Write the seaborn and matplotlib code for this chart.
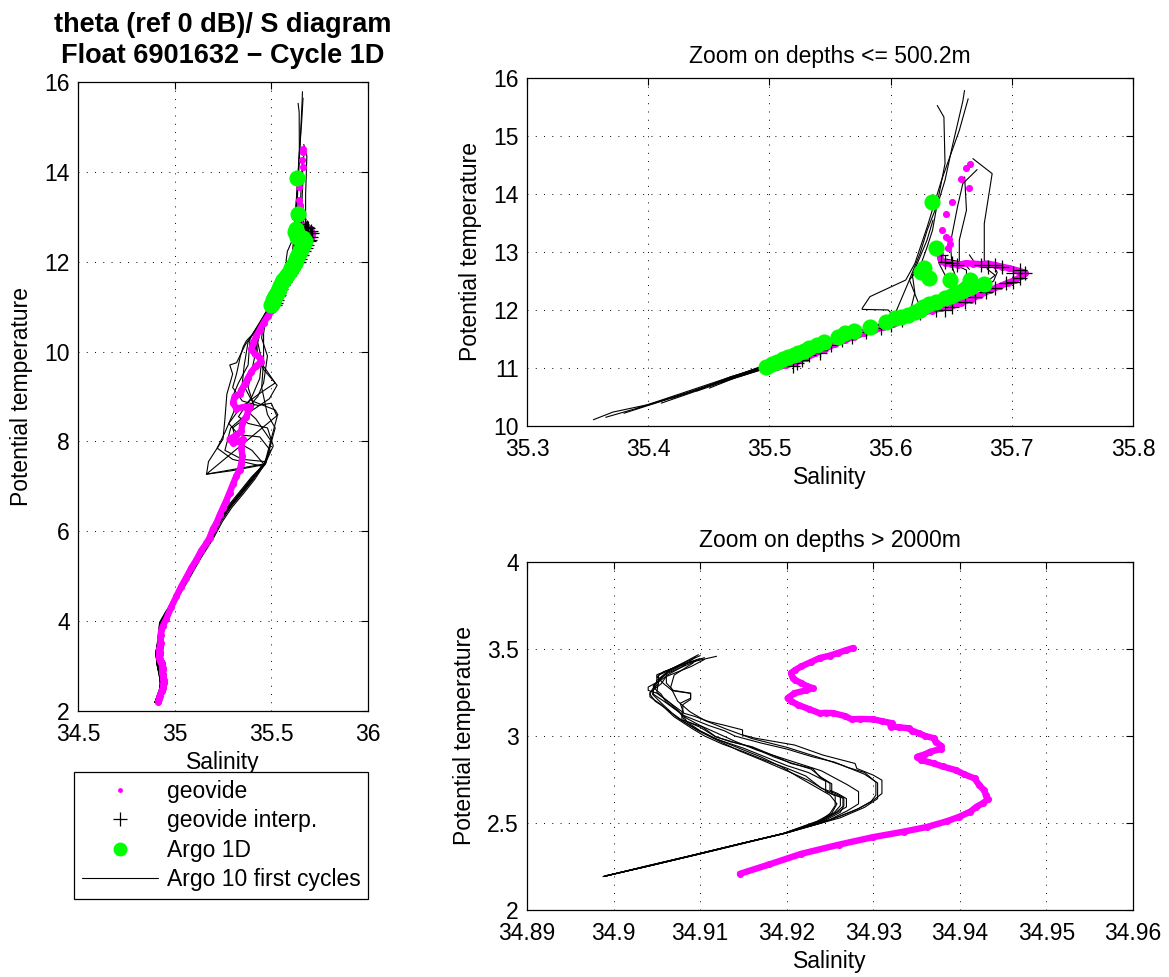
import matplotlib
matplotlib.use("Agg")
import matplotlib.pyplot as plt
from matplotlib.lines import Line2D
from matplotlib.ticker import FixedLocator, FuncFormatter
import pandas as pd
import seaborn as sns

# ---------------- geovide reference CTD profile ----------------
# deep part (> 2000 m)
geo_deep_sal = [34.9146, 34.9180, 34.9217, 34.9260, 34.9300, 34.9335, 34.9362, 34.9385, 34.9399, 34.9412,
                34.9419, 34.9427, 34.9432, 34.9430, 34.9428, 34.9422, 34.9417, 34.9405, 34.9395, 34.9380,
                34.9370, 34.9355, 34.9351, 34.9360, 34.9366, 34.9378, 34.9378, 34.9372, 34.9370, 34.9360,
                34.9353, 34.9345, 34.9341, 34.9330, 34.9320, 34.9322, 34.9310, 34.9300, 34.9285, 34.9275,
                34.9267, 34.9254, 34.9245, 34.9238, 34.9226, 34.9213, 34.9205, 34.9201, 34.9209, 34.9222,
                34.9230, 34.9222, 34.9217, 34.9210, 34.9207, 34.9205, 34.9210, 34.9217, 34.9228, 34.9238,
                34.9250, 34.9259, 34.9268, 34.9277]
geo_deep_theta = [2.208, 2.262, 2.323, 2.375, 2.419, 2.450, 2.477, 2.510, 2.535, 2.565,
                  2.592, 2.615, 2.635, 2.660, 2.688, 2.720, 2.756, 2.780, 2.804, 2.825,
                  2.842, 2.862, 2.881, 2.895, 2.910, 2.925, 2.945, 2.965, 2.987, 3.000,
                  3.015, 3.030, 3.044, 3.050, 3.054, 3.073, 3.085, 3.096, 3.098, 3.096,
                  3.115, 3.131, 3.133, 3.131, 3.154, 3.179, 3.200, 3.217, 3.246, 3.262,
                  3.275, 3.290, 3.304, 3.320, 3.333, 3.362, 3.380, 3.400, 3.425, 3.448,
                  3.462, 3.477, 3.492, 3.506]

# intermediate part (500 m - 2000 m)
geo_mid_sal = [34.9265, 34.9280, 34.9310, 34.9400, 34.9570, 34.9830, 35.0090, 35.0340, 35.0600, 35.0860,
               35.1120, 35.1380, 35.1640, 35.1810, 35.1980, 35.2160, 35.2330, 35.2500, 35.2670, 35.2840,
               35.3020, 35.3190, 35.3360, 35.3450, 35.3500, 35.3450, 35.3530, 35.3360, 35.3020, 35.2840,
               35.3190, 35.3450, 35.3500, 35.3710, 35.3880, 35.3620, 35.3190, 35.3020, 35.3100, 35.3360,
               35.3450, 35.3620, 35.3790, 35.3970, 35.4220, 35.4480, 35.4400, 35.4140, 35.3970, 35.4050,
               35.4220, 35.4400, 35.4600, 35.4830, 35.5000]
geo_mid_theta = [3.60, 3.70, 3.80, 3.90, 4.05, 4.32, 4.55, 4.77, 4.97, 5.18,
                 5.36, 5.57, 5.73, 5.86, 6.05, 6.18, 6.36, 6.52, 6.68, 6.86,
                 7.05, 7.23, 7.36, 7.50, 7.68, 7.86, 8.05, 8.00, 7.97, 8.05,
                 8.14, 8.23, 8.41, 8.55, 8.77, 8.77, 8.73, 8.86, 9.00, 9.05,
                 9.14, 9.27, 9.41, 9.55, 9.68, 9.77, 9.86, 9.95, 10.05, 10.18,
                 10.34, 10.48, 10.64, 10.79, 10.91]

# upper part (<= 500.2 m)
geo_upper_sal = [35.4980, 35.5060, 35.5140, 35.5220, 35.5300, 35.5380, 35.5460, 35.5540, 35.5620, 35.5700,
                 35.5780, 35.5860, 35.5940, 35.6020, 35.6100, 35.6180, 35.6260, 35.6340, 35.6420, 35.6500,
                 35.6580, 35.6660, 35.6740, 35.6820, 35.6900, 35.6970, 35.7030, 35.7080, 35.7112, 35.7050,
                 35.6980, 35.6920, 35.6860, 35.6800, 35.6740, 35.6680, 35.6620, 35.6560, 35.6500, 35.6450,
                 35.6420, 35.6410, 35.6405]
geo_upper_theta = [10.980, 11.010, 11.050, 11.100, 11.170, 11.250, 11.330, 11.410, 11.480, 11.540,
                   11.600, 11.650, 11.700, 11.750, 11.820, 11.890, 11.950, 11.990, 12.030, 12.060,
                   12.120, 12.180, 12.260, 12.340, 12.410, 12.470, 12.520, 12.580, 12.642, 12.680,
                   12.720, 12.745, 12.775, 12.800, 12.790, 12.800, 12.805, 12.780, 12.790, 12.815,
                   12.840, 12.900, 12.970]

# sparse near-surface samples
geo_surface_sal = [35.6474, 35.6493, 35.6485, 35.6460, 35.6422, 35.6455, 35.6507, 35.6649, 35.6578, 35.6622, 35.6652]
geo_surface_theta = [13.070, 13.130, 13.220, 13.260, 13.380, 13.660, 13.870, 14.100, 14.260, 14.450, 14.510]

# geovide interpolated on the Argo levels
interp_sal = [35.5197, 35.5227, 35.5271, 35.5330, 35.5418, 35.5418, 35.5507, 35.5595, 35.5683, 35.5801,
              35.5919, 35.6007, 35.6096, 35.6243, 35.6376, 35.6449, 35.6508, 35.6611, 35.6700, 35.6788,
              35.6862, 35.6950, 35.7009, 35.7068, 35.7112, 35.7068, 35.7009, 35.6920, 35.6862, 35.6803,
              35.6744, 35.6548, 35.6508, 35.6449, 35.6420]
interp_theta = [11.037, 11.083, 11.140, 11.226, 11.254, 11.312, 11.398, 11.484, 11.541, 11.627,
                11.685, 11.742, 11.828, 11.943, 12.000, 12.000, 12.057, 12.143, 12.229, 12.315,
                12.373, 12.459, 12.487, 12.545, 12.642, 12.688, 12.642, 12.745, 12.774, 12.745,
                12.774, 12.780, 12.803, 12.831, 12.946]

# ---------------- Argo float 6901632, cycle 1D ----------------
argo1d_sal = [35.4976, 35.5020, 35.5065, 35.5110, 35.5153, 35.5200, 35.5240, 35.5285, 35.5330, 35.5390,
              35.5450, 35.5566, 35.5624, 35.5700, 35.5830, 35.5963, 35.6037, 35.6090, 35.6140, 35.6200,
              35.6240, 35.6270, 35.6320, 35.6376, 35.6450, 35.6500, 35.6540, 35.6590, 35.6626, 35.6660,
              35.6767, 35.6658, 35.6488, 35.6317, 35.6274, 35.6247, 35.6378, 35.6342]
argo1d_theta = [11.025, 11.060, 11.111, 11.150, 11.197, 11.230, 11.266, 11.300, 11.340, 11.400,
                11.455, 11.541, 11.599, 11.645, 11.713, 11.800, 11.857, 11.880, 11.914, 11.960,
                12.000, 12.057, 12.100, 12.143, 12.200, 12.240, 12.287, 12.330, 12.373, 12.400,
                12.450, 12.520, 12.520, 12.545, 12.720, 12.660, 13.060, 13.870]

# ---------------- Argo 10 first cycles ----------------
# deep part (> 2000 m), one list per cycle
argo_deep_sal = [
    [34.8988, 34.9040, 34.9094, 34.9150, 34.9197, 34.9240, 34.9262, 34.9283, 34.9300, 34.9310, 34.9310,
     34.9300, 34.9281, 34.9279, 34.9242, 34.9209, 34.9164, 34.9149, 34.9149, 34.9127, 34.9110,
     34.9094, 34.9081, 34.9077, 34.9089, 34.9089, 34.9069, 34.9061, 34.9061, 34.9077, 34.9119],
    [34.8988, 34.9040, 34.9094, 34.9150, 34.9197, 34.9242, 34.9259, 34.9269, 34.9269, 34.9259, 34.9250, 34.9250,
     34.9238, 34.9230, 34.9205, 34.9188, 34.9160, 34.9135, 34.9118, 34.9102, 34.9079, 34.9079,
     34.9063, 34.9050, 34.9040, 34.9040, 34.9050, 34.9050, 34.9069, 34.9098],
    [34.8992, 34.9045, 34.9100, 34.9155, 34.9200, 34.9240, 34.9255, 34.9262, 34.9262, 34.9245, 34.9245, 34.9225,
     34.9200, 34.9180, 34.9150, 34.9120, 34.9100, 34.9085, 34.9080, 34.9080, 34.9089, 34.9089,
     34.9068, 34.9058, 34.9050, 34.9058, 34.9080, 34.9105],
    [34.8990, 34.9045, 34.9098, 34.9152, 34.9200, 34.9240, 34.9262, 34.9280, 34.9297, 34.9303, 34.9303,
     34.9290, 34.9270, 34.9255, 34.9230, 34.9200, 34.9170, 34.9140, 34.9128, 34.9110, 34.9095,
     34.9080, 34.9070, 34.9060, 34.9055, 34.9048, 34.9050, 34.9060, 34.9085, 34.9100],
    [34.8990, 34.9043, 34.9095, 34.9150, 34.9195, 34.9235, 34.9252, 34.9258, 34.9250, 34.9236, 34.9215, 34.9195,
     34.9170, 34.9145, 34.9115, 34.9095, 34.9075, 34.9060, 34.9048, 34.9042, 34.9045, 34.9052,
     34.9052, 34.9075],
    [34.8991, 34.9044, 34.9097, 34.9152, 34.9199, 34.9250, 34.9270, 34.9283, 34.9283, 34.9270, 34.9255, 34.9240,
     34.9215, 34.9190, 34.9165, 34.9140, 34.9118, 34.9100, 34.9085, 34.9072, 34.9058, 34.9046,
     34.9046, 34.9060, 34.9090, 34.9105],
    [34.8989, 34.9042, 34.9096, 34.9151, 34.9198, 34.9245, 34.9262, 34.9266, 34.9266, 34.9255, 34.9240, 34.9222,
     34.9200, 34.9175, 34.9150, 34.9125, 34.9105, 34.9090, 34.9070, 34.9055, 34.9042, 34.9042,
     34.9055, 34.9062, 34.9080, 34.9095],
    [34.8989, 34.9041, 34.9093, 34.9149, 34.9196, 34.9240, 34.9257, 34.9265, 34.9265, 34.9252, 34.9252, 34.9240,
     34.9228, 34.9205, 34.9185, 34.9160, 34.9138, 34.9118, 34.9100, 34.9082, 34.9076, 34.9064,
     34.9050, 34.9052, 34.9066, 34.9100],
    [34.8992, 34.9046, 34.9098, 34.9153, 34.9198, 34.9238, 34.9250, 34.9256, 34.9256, 34.9244, 34.9225, 34.9200,
     34.9172, 34.9145, 34.9120, 34.9098, 34.9082, 34.9068, 34.9055, 34.9045, 34.9048, 34.9062,
     34.9095],
    [34.8990, 34.9043, 34.9095, 34.9151, 34.9198, 34.9262, 34.9290, 34.9305, 34.9305, 34.9290, 34.9265, 34.9235,
     34.9200, 34.9160, 34.9130, 34.9105, 34.9088, 34.9074, 34.9066, 34.9070, 34.9092],
]
argo_deep_theta = [
    [2.192, 2.255, 2.318, 2.385, 2.440, 2.500, 2.540, 2.583, 2.631, 2.669, 2.746,
     2.775, 2.813, 2.842, 2.890, 2.948, 2.987, 3.006, 3.035, 3.063, 3.083,
     3.112, 3.131, 3.188, 3.217, 3.246, 3.262, 3.304, 3.371, 3.410, 3.458],
    [2.192, 2.255, 2.318, 2.385, 2.440, 2.515, 2.563, 2.592, 2.640, 2.669, 2.688, 2.727,
     2.765, 2.813, 2.842, 2.881, 2.938, 2.967, 2.996, 3.054, 3.092, 3.140,
     3.198, 3.246, 3.262, 3.281, 3.308, 3.352, 3.390, 3.467],
    [2.198, 2.258, 2.322, 2.388, 2.443, 2.515, 2.560, 2.600, 2.650, 2.680, 2.740, 2.790,
     2.830, 2.870, 2.930, 2.980, 3.030, 3.080, 3.120, 3.180, 3.210, 3.245,
     3.260, 3.300, 3.340, 3.370, 3.410, 3.450],
    [2.195, 2.257, 2.320, 2.386, 2.442, 2.500, 2.540, 2.575, 2.620, 2.660, 2.735,
     2.790, 2.820, 2.850, 2.880, 2.925, 2.960, 3.000, 3.030, 3.060, 3.090,
     3.120, 3.160, 3.200, 3.240, 3.270, 3.320, 3.360, 3.420, 3.445],
    [2.194, 2.256, 2.318, 2.385, 2.438, 2.510, 2.555, 2.610, 2.660, 2.700, 2.760, 2.820,
     2.880, 2.930, 2.990, 3.040, 3.100, 3.160, 3.200, 3.240, 3.270, 3.300,
     3.350, 3.400],
    [2.196, 2.257, 2.320, 2.387, 2.443, 2.520, 2.570, 2.610, 2.680, 2.720, 2.760, 2.800,
     2.840, 2.880, 2.920, 2.970, 3.020, 3.060, 3.100, 3.150, 3.200, 3.240,
     3.290, 3.340, 3.400, 3.440],
    [2.193, 2.255, 2.319, 2.386, 2.441, 2.517, 2.562, 2.598, 2.645, 2.672, 2.700, 2.770,
     2.815, 2.860, 2.910, 2.955, 3.000, 3.045, 3.110, 3.180, 3.225, 3.250,
     3.300, 3.350, 3.400, 3.455],
    [2.193, 2.254, 2.317, 2.384, 2.440, 2.513, 2.561, 2.595, 2.642, 2.668, 2.725, 2.762,
     2.810, 2.845, 2.880, 2.935, 2.965, 2.995, 3.050, 3.090, 3.140, 3.195,
     3.250, 3.320, 3.385, 3.462],
    [2.197, 2.259, 2.321, 2.388, 2.442, 2.510, 2.555, 2.600, 2.655, 2.690, 2.745, 2.800,
     2.860, 2.915, 2.975, 3.030, 3.080, 3.130, 3.190, 3.240, 3.300, 3.360,
     3.430],
    [2.194, 2.256, 2.318, 2.386, 2.441, 2.530, 2.590, 2.640, 2.730, 2.780, 2.830, 2.880,
     2.935, 2.985, 3.040, 3.090, 3.140, 3.200, 3.280, 3.350, 3.420],
]

# intermediate part (500 m - 2000 m)
argo_mid_sal = [
    [34.912, 34.918, 34.925, 34.960, 35.000, 35.060, 35.125, 35.190, 35.235, 35.285, 35.345, 35.405,
     35.465, 35.530, 35.500, 35.430, 35.350, 35.300, 35.320, 35.340],
    [34.911, 34.917, 34.923, 34.957, 34.996, 35.055, 35.120, 35.186, 35.232, 35.283, 35.342, 35.400,
     35.460, 35.300, 35.165, 35.175, 35.250, 35.260, 35.270, 35.300, 35.285, 35.320],
    [34.913, 34.919, 34.927, 34.963, 35.004, 35.064, 35.130, 35.195, 35.240, 35.290, 35.350, 35.410,
     35.470, 35.350, 35.260, 35.290, 35.370, 35.490, 35.530, 35.460, 35.420],
    [34.913, 34.920, 34.928, 34.965, 35.006, 35.068, 35.134, 35.200, 35.246, 35.296, 35.356, 35.415,
     35.470, 35.510, 35.480, 35.380, 35.330, 35.400, 35.440, 35.450, 35.430],
    [34.910, 34.916, 34.922, 34.955, 34.994, 35.052, 35.117, 35.182, 35.228, 35.279, 35.338, 35.398,
     35.465, 35.164, 35.534, 35.520, 35.400, 35.350, 35.360],
    [34.912, 34.919, 34.926, 34.962, 35.002, 35.062, 35.128, 35.193, 35.238, 35.288, 35.348, 35.408,
     35.460, 35.495, 35.440, 35.330, 35.280, 35.340, 35.450, 35.520, 35.480, 35.430],
    [34.911, 34.918, 34.924, 34.958, 34.998, 35.058, 35.122, 35.188, 35.233, 35.284, 35.343, 35.402,
     35.450, 35.300, 35.220, 35.260, 35.310, 35.300, 35.330, 35.380],
    [34.912, 34.919, 34.926, 34.961, 35.001, 35.061, 35.126, 35.191, 35.236, 35.287, 35.347, 35.407,
     35.470, 35.500, 35.420, 35.370, 35.430, 35.460, 35.480, 35.450],
    [34.911, 34.917, 34.924, 34.959, 34.999, 35.059, 35.124, 35.189, 35.234, 35.285, 35.344, 35.404,
     35.460, 35.400, 35.320, 35.300, 35.360, 35.410, 35.380, 35.400, 35.420],
    [34.912, 34.918, 34.925, 34.960, 35.000, 35.060, 35.125, 35.190, 35.235, 35.286, 35.346, 35.406,
     35.470, 35.520, 35.480, 35.450, 35.460, 35.460],
]
argo_mid_theta = [
    [3.50, 3.70, 3.95, 4.20, 4.45, 4.90, 5.40, 5.86, 6.23, 6.55, 6.86, 7.18,
     7.50, 8.55, 8.85, 8.80, 8.90, 9.20, 9.50, 9.90],
    [3.49, 3.71, 3.96, 4.21, 4.46, 4.91, 5.41, 5.87, 6.24, 6.57, 6.88, 7.20,
     7.48, 7.35, 7.27, 7.55, 8.05, 8.50, 9.05, 9.50, 9.70, 9.75],
    [3.50, 3.70, 3.94, 4.19, 4.44, 4.89, 5.39, 5.85, 6.22, 6.54, 6.85, 7.17,
     7.55, 7.60, 7.80, 8.30, 8.60, 8.95, 9.25, 9.60, 9.95],
    [3.48, 3.69, 3.94, 4.19, 4.44, 4.89, 5.39, 5.84, 6.21, 6.53, 6.84, 7.16,
     7.52, 7.90, 8.30, 8.40, 8.55, 9.00, 9.40, 9.80, 10.20],
    [3.50, 3.72, 3.97, 4.22, 4.47, 4.92, 5.42, 5.88, 6.25, 6.58, 6.89, 7.21,
     7.50, 7.27, 8.59, 8.70, 8.90, 9.30, 9.70],
    [3.47, 3.70, 3.95, 4.20, 4.45, 4.90, 5.40, 5.86, 6.23, 6.56, 6.87, 7.19,
     7.50, 7.80, 8.10, 8.15, 8.40, 8.75, 9.10, 9.30, 9.55, 9.85],
    [3.49, 3.70, 3.95, 4.20, 4.45, 4.90, 5.40, 5.86, 6.23, 6.55, 6.86, 7.18,
     7.45, 7.60, 7.85, 8.20, 8.70, 9.00, 9.30, 9.70],
    [3.50, 3.70, 3.95, 4.20, 4.45, 4.90, 5.40, 5.86, 6.23, 6.55, 6.86, 7.18,
     7.50, 8.00, 8.50, 8.70, 9.00, 9.30, 9.90, 10.30],
    [3.45, 3.70, 3.95, 4.20, 4.45, 4.90, 5.40, 5.86, 6.23, 6.55, 6.86, 7.18,
     7.50, 7.80, 8.00, 8.30, 8.50, 8.80, 9.20, 9.60, 10.00],
    [3.42, 3.70, 3.95, 4.20, 4.45, 4.90, 5.40, 5.86, 6.23, 6.55, 6.86, 7.18,
     7.50, 8.30, 8.60, 9.20, 9.80, 10.40],
]

# upper part (<= 500.2 m)
argo_upper_sal = [
    [35.3548, 35.3710, 35.4004, 35.4400, 35.4976, 35.5270, 35.5566, 35.5860, 35.6155, 35.6243,
     35.6155, 35.6243, 35.6302, 35.6400, 35.6449, 35.6508, 35.6596, 35.6610],
    [35.3650, 35.3900, 35.4300, 35.4700, 35.5000, 35.5300, 35.5600, 35.5900, 35.6155, 35.6200,
     35.6180, 35.6240, 35.6300, 35.6350],
    [35.4108, 35.4387, 35.4682, 35.5000, 35.5566, 35.5860, 35.6010, 35.6155, 35.6243, 35.6302,
     35.6346, 35.6390, 35.6449, 35.6440, 35.6385],
    [35.4505, 35.4741, 35.4976, 35.5566, 35.5860, 35.6155, 35.6449, 35.6744, 35.6862, 35.6800,
     35.6773, 35.6773, 35.6838, 35.6679],
    [35.3800, 35.4100, 35.4500, 35.4976, 35.5270, 35.5566, 35.5860, 35.6155, 35.6400, 35.6550,
     35.6508, 35.6493, 35.6552, 35.6596, 35.6714],
    [35.4200, 35.4600, 35.4976, 35.5566, 35.6000, 35.6300, 35.6500, 35.6626, 35.6626, 35.6567,
     35.6567, 35.6626, 35.6611],
    [35.3900, 35.4300, 35.4800, 35.5300, 35.5600, 35.5860, 35.6007, 35.6007, 35.5980, 35.5766,
     35.5766, 35.5830, 35.6125, 35.6200, 35.6302, 35.6420, 35.6567, 35.6640],
    [35.4600, 35.4800, 35.5000, 35.5300, 35.5600, 35.5900, 35.6200, 35.6449, 35.6500, 35.6450,
     35.6400, 35.6450, 35.6600, 35.6650],
    [35.4400, 35.4700, 35.5000, 35.5300, 35.5600, 35.5900, 35.6200, 35.6500, 35.6700, 35.6850,
     35.6880, 35.6850, 35.6700, 35.6650],
    [35.4750, 35.4950, 35.5270, 35.5566, 35.5860, 35.6155, 35.6300, 35.6449, 35.6600, 35.6700,
     35.6650],
]
argo_upper_theta = [
    [10.108, 10.240, 10.370, 10.620, 11.060, 11.290, 11.520, 11.720, 11.940, 12.050,
     12.520, 12.975, 13.376, 13.900, 14.236, 14.810, 15.600, 15.784],
    [10.150, 10.300, 10.580, 10.860, 11.060, 11.280, 11.500, 11.700, 11.910, 12.300,
     12.600, 12.900, 13.200, 13.550],
    [10.394, 10.595, 10.850, 11.040, 11.480, 11.700, 11.800, 12.516, 12.745, 13.089,
     13.376, 13.892, 14.523, 15.326, 15.526],
    [10.653, 10.850, 11.000, 11.460, 11.670, 11.890, 12.120, 12.400, 12.600, 12.700,
     12.860, 13.491, 14.351, 14.609],
    [10.220, 10.420, 10.700, 11.030, 11.260, 11.490, 11.690, 11.920, 12.100, 12.500,
     12.745, 13.147, 13.778, 14.179, 14.420],
    [10.480, 10.760, 11.020, 11.470, 11.780, 12.020, 12.180, 12.450, 12.688, 12.745,
     13.204, 13.720, 14.294],
    [10.300, 10.550, 10.920, 11.300, 11.520, 11.700, 11.800, 11.943, 12.000, 12.010,
     12.030, 12.230, 12.516, 12.800, 13.433, 14.236, 15.096, 15.641],
    [10.750, 10.880, 11.010, 11.230, 11.450, 11.660, 11.880, 12.140, 12.400, 12.600,
     12.800, 12.880, 12.820, 12.700],
    [10.600, 10.820, 11.020, 11.240, 11.460, 11.670, 11.890, 12.110, 12.300, 12.500,
     12.650, 12.750, 12.800, 12.950],
    [10.850, 11.000, 11.240, 11.460, 11.660, 11.880, 11.990, 12.100, 12.250, 12.380,
     12.500],
]

# axis ticks
full_sal_ticks = [34.5, 35.0, 35.5, 36.0]
full_theta_ticks = [2, 4, 6, 8, 10, 12, 14, 16]
upper_sal_ticks = [35.3, 35.4, 35.5, 35.6, 35.7, 35.8]
upper_theta_ticks = [10, 11, 12, 13, 14, 15, 16]
deep_sal_ticks = [34.89, 34.90, 34.91, 34.92, 34.93, 34.94, 34.95, 34.96]
deep_theta_ticks = [2, 2.5, 3, 3.5, 4]

MAGENTA = "#ff00ff"
GREEN = "#00ff00"
FS = 16.5

sns.set_style("white")
plt.rcParams["font.family"] = ["Liberation Sans", "DejaVu Sans"]
plt.rcParams["text.color"] = "black"
plt.rcParams["axes.labelcolor"] = "black"
plt.rcParams["xtick.color"] = "black"
plt.rcParams["ytick.color"] = "black"


def cycles_frame(sal_lists, theta_lists):
    parts = []
    for k, (s, t) in enumerate(zip(sal_lists, theta_lists)):
        parts.append(pd.DataFrame({"cycle": k + 1, "sal": s, "theta": t}))
    return pd.concat(parts, ignore_index=True)


def join_segments(*segments):
    out = []
    for k in range(len(segments[0])):
        row = []
        for seg in segments:
            row.extend(seg[k])
        out.append(row)
    return out


def draw_panel(ax, argo_df, geo_paths, geo_dots, with_upper_marks):
    sns.lineplot(data=argo_df, x="sal", y="theta", units="cycle", estimator=None, sort=False,
                 color="black", linewidth=0.8, ax=ax, legend=False, zorder=2)
    for s, t in geo_paths:
        sns.lineplot(x=s, y=t, sort=False, estimator=None, color=MAGENTA, linewidth=4.6,
                     solid_joinstyle="round", solid_capstyle="round", ax=ax, zorder=3)
        sns.scatterplot(x=s, y=t, color=MAGENTA, s=26, linewidth=0, ax=ax, zorder=3)
    for s, t in geo_dots:
        sns.scatterplot(x=s, y=t, color=MAGENTA, s=26, linewidth=0, ax=ax, zorder=3)
    if with_upper_marks:
        sns.scatterplot(x=interp_sal, y=interp_theta, marker="+", color="black", s=110,
                        linewidth=0.9, ax=ax, zorder=4)
        sns.scatterplot(x=argo1d_sal, y=argo1d_theta, color=GREEN, s=135, linewidth=0,
                        ax=ax, zorder=5)


def style_axes(ax, xlim, ylim, xticks, yticks):
    ax.set_xlim(xlim)
    ax.set_ylim(ylim)
    ax.xaxis.set_major_locator(FixedLocator(xticks))
    ax.yaxis.set_major_locator(FixedLocator(yticks))
    fmt = FuncFormatter(lambda v, p: f"{v:g}")
    ax.xaxis.set_major_formatter(fmt)
    ax.yaxis.set_major_formatter(fmt)
    ax.tick_params(direction="in", length=5, width=0.8, top=True, right=True,
                   labelsize=FS, pad=6, colors="black", labelcolor="black")
    ax.tick_params(axis="x", pad=9)
    ax.grid(True, color="black", linestyle=(0, (1, 7.5)), linewidth=0.7)
    for sp in ax.spines.values():
        sp.set_color("black")
        sp.set_linewidth(0.9)
        sp.set_visible(True)


fig = plt.figure(figsize=(11.69, 9.77), dpi=100)
ax_full = fig.add_axes([0.0667, 0.2723, 0.2481, 0.6438])
ax_up = fig.add_axes([0.4508, 0.5640, 0.5184, 0.3562])
ax_deep = fig.add_axes([0.4508, 0.0686, 0.5184, 0.3562])

# full profile
full_df = cycles_frame(join_segments(argo_deep_sal, argo_mid_sal, argo_upper_sal),
                       join_segments(argo_deep_theta, argo_mid_theta, argo_upper_theta))
draw_panel(ax_full, full_df,
           [(geo_deep_sal + geo_mid_sal + geo_upper_sal, geo_deep_theta + geo_mid_theta + geo_upper_theta)],
           [(geo_surface_sal, geo_surface_theta)], True)
style_axes(ax_full, (34.5, 36.0), (2, 16), full_sal_ticks, full_theta_ticks)
ax_full.set_title("theta (ref 0 dB)/ S diagram\nFloat 6901632 \u2212 Cycle 1D",
                  fontsize=19.5, fontweight="bold", pad=14, linespacing=1.25, color="black")

# upper layer zoom
draw_panel(ax_up, cycles_frame(argo_upper_sal, argo_upper_theta),
           [(geo_upper_sal, geo_upper_theta)], [(geo_surface_sal, geo_surface_theta)], True)
style_axes(ax_up, (35.3, 35.8), (10, 16), upper_sal_ticks, upper_theta_ticks)
ax_up.set_title("Zoom on depths <= 500.2m", fontsize=FS, pad=11, color="black")

# deep layer zoom
draw_panel(ax_deep, cycles_frame(argo_deep_sal, argo_deep_theta),
           [(geo_deep_sal, geo_deep_theta)], [], False)
style_axes(ax_deep, (34.89, 34.96), (2, 4), deep_sal_ticks, deep_theta_ticks)
ax_deep.set_title("Zoom on depths > 2000m", fontsize=FS, pad=11, color="black")

for ax in (ax_full, ax_up, ax_deep):
    ax.set_xlabel("Salinity", fontsize=FS, labelpad=3, color="black")
    ax.set_ylabel("Potential temperature", fontsize=FS, labelpad=8, color="black")

handles = [
    Line2D([], [], linestyle="none", marker="o", markersize=3.5, color=MAGENTA, markeredgewidth=0),
    Line2D([], [], linestyle="none", marker="+", markersize=10, color="black", markeredgewidth=0.9),
    Line2D([], [], linestyle="none", marker="o", markersize=10, color=GREEN, markeredgewidth=0),
    Line2D([], [], color="black", linewidth=0.8),
]
labels = ["geovide", "geovide interp.", "Argo 1D", "Argo 10 first cycles"]
leg = fig.legend(handles, labels, loc="upper left", bbox_to_anchor=(73.7 / 1169, 1 - 772 / 977),
                 bbox_transform=fig.transFigure, frameon=True, fancybox=False, shadow=False,
                 fontsize=FS, handlelength=3.35, handletextpad=0.35, labelspacing=0.28,
                 borderpad=0.35, borderaxespad=0.0, numpoints=1)
leg.get_frame().set_edgecolor("black")
leg.get_frame().set_linewidth(0.9)
leg.get_frame().set_alpha(1)
for txt in leg.get_texts():
    txt.set_color("black")

fig.savefig("out.png", dpi=100, facecolor="white")
